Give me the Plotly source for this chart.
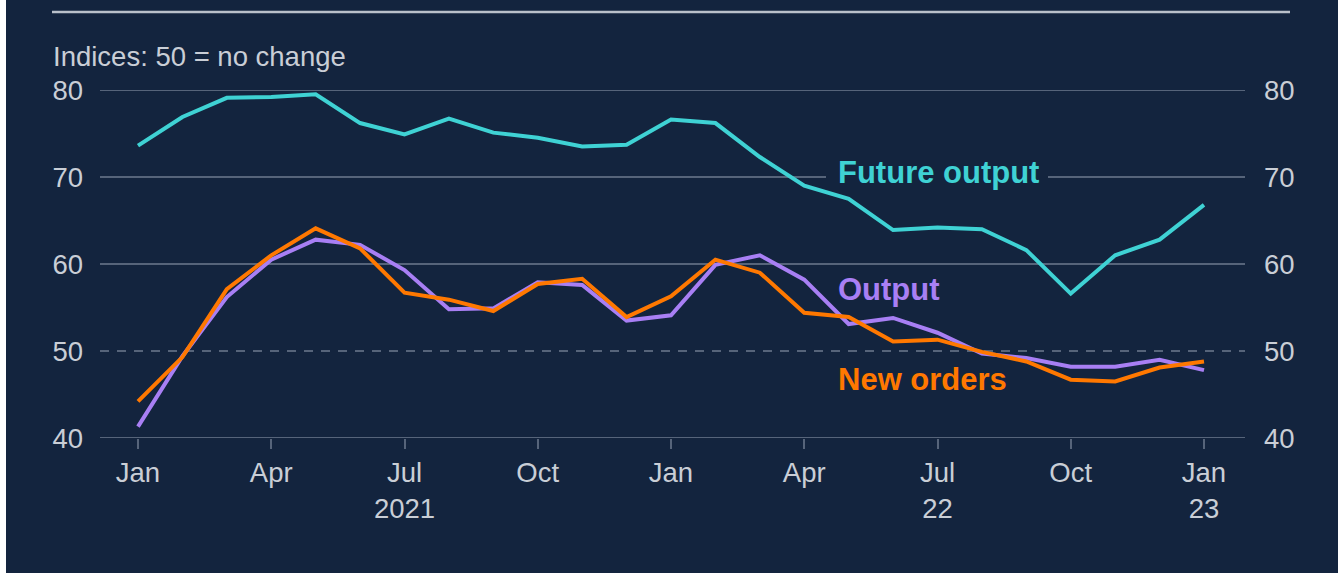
import plotly.graph_objects as go

# ---- data ----
months = ["2021-01", "2021-02", "2021-03", "2021-04", "2021-05", "2021-06", "2021-07",
          "2021-08", "2021-09", "2021-10", "2021-11", "2021-12", "2022-01", "2022-02",
          "2022-03", "2022-04", "2022-05", "2022-06", "2022-07", "2022-08", "2022-09",
          "2022-10", "2022-11", "2022-12", "2023-01"]
future_output = [73.6, 76.9, 79.1, 79.2, 79.5, 76.2, 74.9, 76.7, 75.1, 74.5, 73.5, 73.7,
                 76.6, 76.2, 72.3, 69.0, 67.5, 63.9, 64.2, 64.0, 61.6, 56.6, 61.0, 62.8, 66.8]
output = [41.3, 49.4, 56.2, 60.5, 62.8, 62.2, 59.3, 54.8, 54.9, 57.9, 57.6, 53.5,
          54.1, 59.9, 61.0, 58.2, 53.1, 53.8, 52.1, 49.7, 49.2, 48.2, 48.2, 49.0, 47.8]
new_orders = [44.2, 49.3, 57.1, 61.0, 64.1, 61.8, 56.7, 55.9, 54.6, 57.7, 58.3, 53.9,
              56.3, 60.5, 59.0, 54.4, 53.9, 51.1, 51.3, 49.9, 48.8, 46.7, 46.5, 48.1, 48.8]
tick_months = ["2021-01", "2021-04", "2021-07", "2021-10", "2022-01", "2022-04",
               "2022-07", "2022-10", "2023-01"]
tick_labels = ["Jan", "Apr", "Jul<br>2021", "Oct", "Jan", "Apr", "Jul<br>22", "Oct", "Jan<br>23"]
y_ticks = [40, 50, 60, 70, 80]

# ---- style ----
BG = "#13243e"
GRID = "#56647a"
TXT = "#c9ced6"
CYAN = "#3fd2d4"
PURPLE = "#a87ff4"
ORANGE = "#ff7800"
FONT = "Liberation Sans, Arial, sans-serif"

W, H = 1338, 573
L, R, T, B = 100, 1245, 90, 438  # plot area in px


def px_x(px):
    return (px - L) / (R - L)


def px_y(py):
    return (B - py) / (B - T)


xi = list(range(len(months)))
idx = {m: i for i, m in enumerate(months)}
tickvals = [idx[m] for m in tick_months]

fig = go.Figure()
fig.add_trace(go.Scatter(x=xi, y=output, mode="lines", line=dict(color=PURPLE, width=4),
                         name="Output", showlegend=False, cliponaxis=False))
fig.add_trace(go.Scatter(x=xi, y=new_orders, mode="lines", line=dict(color=ORANGE, width=4),
                         name="New orders", showlegend=False, cliponaxis=False))
fig.add_trace(go.Scatter(x=xi, y=future_output, mode="lines", line=dict(color=CYAN, width=4),
                         name="Future output", showlegend=False, cliponaxis=False))
# invisible trace to carry the right-hand axis
fig.add_trace(go.Scatter(x=xi, y=future_output, yaxis="y2", mode="lines",
                         line=dict(width=0, color="rgba(0,0,0,0)"), hoverinfo="skip",
                         showlegend=False))

shapes = []
# top rule
shapes.append(dict(type="line", xref="paper", yref="paper", x0=px_x(52), x1=px_x(1290),
                   y0=px_y(12), y1=px_y(12), line=dict(color="#b9c0ca", width=2.5)))
# gridlines
for v in y_ticks:
    if v == 70:
        segs = [(0, px_x(826)), (px_x(1048), 1)]
    else:
        segs = [(0, 1)]
    for a, b in segs:
        shapes.append(dict(type="line", xref="paper", yref="y", x0=a, x1=b, y0=v, y1=v,
                           layer="below",
                           line=dict(color=GRID, width=2, dash="9px,8px" if v == 50 else "solid")))
# left white edge
shapes.append(dict(type="rect", xref="paper", yref="paper", x0=px_x(0), x1=px_x(6),
                   y0=px_y(H), y1=px_y(0), fillcolor="white", line=dict(width=0), layer="above"))

annotations = [
    dict(text="Indices: 50 = no change", xref="paper", yref="paper", x=px_x(51), y=px_y(56),
         xanchor="left", yanchor="middle", showarrow=False, font=dict(size=27.5, color=TXT, family=FONT)),
    dict(text="<b>Future output</b>", xref="x", yref="y", x=15.72, y=70.5, xanchor="left",
         yanchor="middle", showarrow=False, font=dict(size=31, color=CYAN, family=FONT)),
    dict(text="<b>Output</b>", xref="x", yref="y", x=15.72, y=57.1, xanchor="left",
         yanchor="middle", showarrow=False, font=dict(size=31, color=PURPLE, family=FONT)),
    dict(text="<b>New orders</b>", xref="x", yref="y", x=15.72, y=46.7, xanchor="left",
         yanchor="middle", showarrow=False, font=dict(size=31, color=ORANGE, family=FONT)),
]

x0 = -(138 - L) / 44.42
x1 = 24 + (R - 1204) / 44.42

fig.update_layout(
    width=W, height=H,
    margin=dict(l=L, r=W - R, t=T, b=H - B, pad=0),
    paper_bgcolor=BG, plot_bgcolor=BG,
    font=dict(family=FONT, size=27.5, color=TXT),
    shapes=shapes, annotations=annotations,
    xaxis=dict(range=[x0, x1], tickvals=tickvals, ticktext=tick_labels, showgrid=False,
               zeroline=False, showline=False, ticks="outside", ticklen=10, tickwidth=1.5,
               tickcolor=GRID, tickfont=dict(size=27.5, color=TXT), ticklabelstandoff=0),
    yaxis=dict(range=[40, 80], tickvals=y_ticks, showgrid=False, zeroline=False, showline=False,
               ticks="", tickfont=dict(size=27.5, color=TXT), ticklabelstandoff=16),
    yaxis2=dict(range=[40, 80], tickvals=y_ticks, overlaying="y", side="right", showgrid=False,
                zeroline=False, showline=False, ticks="", tickfont=dict(size=27.5, color=TXT),
                ticklabelstandoff=18),
)

fig.write_html("out.html", config={"displayModeBar": False},
               post_script="document.body.style.margin='0';")
